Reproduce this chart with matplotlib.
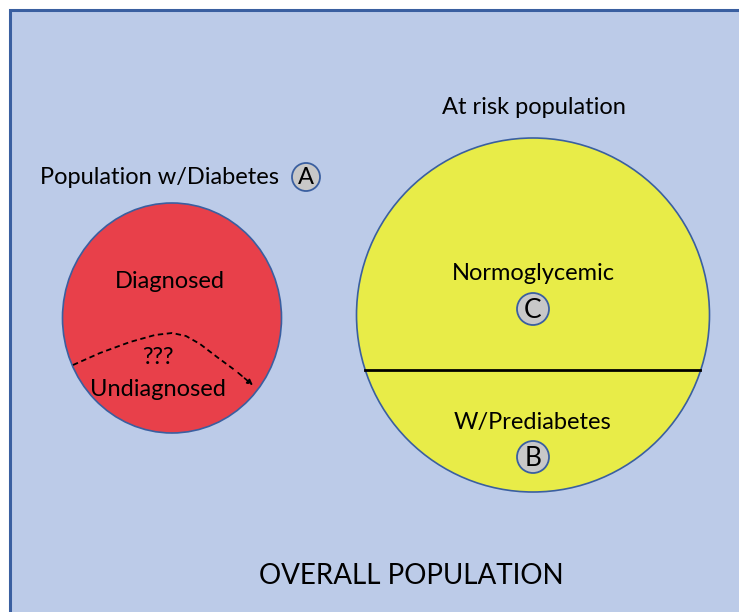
import matplotlib.pyplot as plt
from matplotlib.patches import Rectangle, Ellipse, Circle

# labels of the diagram
group_titles = ['Population w/Diabetes', 'At risk population']
red_labels = ['Diagnosed', '???', 'Undiagnosed']
yellow_labels = ['Normoglycemic', 'W/Prediabetes']
badge_letters = ['A', 'C', 'B']
footer = 'OVERALL POPULATION'

# dashed boundary between diagnosed / undiagnosed
dash_x = [73, 100, 130, 155, 172, 186, 200, 217, 236, 255]
dash_y = [365, 353, 342, 335, 333, 336, 344, 357, 371, 387]

BG = '#bccbe8'
EDGE = '#3a5fa0'
RED = '#e8404a'
YELLOW = '#e8ec48'
GREY = '#c8c8c8'
FONT = 'Lato'

fig = plt.figure(figsize=(7.39, 6.12), dpi=100)
ax = fig.add_axes([0, 0, 1, 1])
ax.set_xlim(0, 739)
ax.set_ylim(612, 0)
ax.axis('off')

ax.add_patch(Rectangle((10, 10), 760, 640, facecolor=BG, edgecolor=EDGE, lw=2.2))

# red circle
ax.add_patch(Ellipse((172, 318), 219, 230, facecolor=RED, edgecolor=EDGE, lw=1.2))
ax.plot(dash_x[:-1], dash_y[:-1], color='black', ls=(0, (3, 2)), lw=1.3)
ax.annotate('', xy=(dash_x[-1], dash_y[-1]), xytext=(dash_x[-2], dash_y[-2]),
            arrowprops=dict(arrowstyle='-|>', color='black', lw=1.2,
                            linestyle=(0, (3, 2)), mutation_scale=8))

# yellow circle
ax.add_patch(Ellipse((533, 315), 353, 354, facecolor=YELLOW, edgecolor=EDGE, lw=1.2))
ax.plot([365, 700], [370, 370], color='black', lw=2)


def badge(x, y, r, letter, size):
    ax.add_patch(Circle((x, y), r, facecolor=GREY, edgecolor=EDGE, lw=1.3))
    ax.text(x, y + 1, letter, ha='center', va='center', fontsize=size, family=FONT)


badge(306, 177, 14, badge_letters[0], 17)
badge(533, 309, 16, badge_letters[1], 19)
badge(533, 457, 16, badge_letters[2], 19)

ax.text(160, 178, group_titles[0], ha='center', va='center', fontsize=17, family=FONT)
ax.text(534, 107, group_titles[1], ha='center', va='center', fontsize=17, family=FONT)

for label, x, y in zip(red_labels, [170, 158, 158], [281, 357, 390]):
    ax.text(x, y, label, ha='center', va='center', fontsize=17, family=FONT)

for label, y in zip(yellow_labels, [273, 423]):
    ax.text(533, y, label, ha='center', va='center', fontsize=17, family=FONT)

ax.text(411, 576, footer, ha='center', va='center', fontsize=20, family=FONT)

fig.savefig('out.png', dpi=100)
